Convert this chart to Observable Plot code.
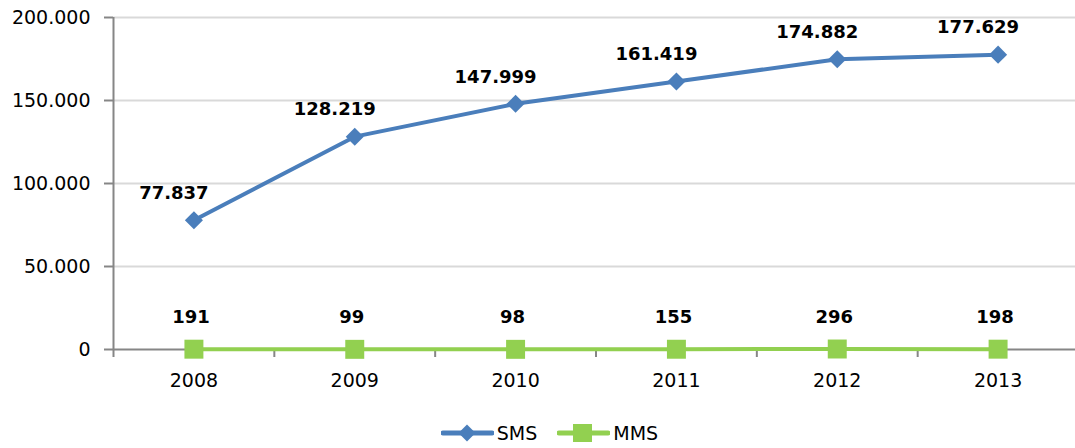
<!DOCTYPE html>
<html>
<head>
<meta charset="utf-8">
<script src="https://cdn.jsdelivr.net/npm/d3@7"></script>
<script src="https://cdn.jsdelivr.net/npm/@observablehq/plot@0.6"></script>
<style>
  body { margin: 0; background: #fff; font-family: "DejaVu Sans", sans-serif; overflow: hidden; }
  #legend { height: 38px; display: flex; justify-content: center; align-items: center; padding-left: 24px; box-sizing: border-box; padding-top: 8px; font-size: 19px; color: #000; }
  .item { display: flex; align-items: center; margin: 0 10px; }
  .item svg { margin-right: 3px; }
</style>
</head>
<body>
<div id="chart"></div>
<div id="legend"></div>
<script>
const years = [2008, 2009, 2010, 2011, 2012, 2013];
const sms = [77837, 128219, 147999, 161419, 174882, 177629];
const mms = [191, 99, 98, 155, 296, 198];
const yTicks = [0, 50000, 100000, 150000, 200000];
const seriesNames = ["SMS", "MMS"];
const seriesColors = ["#4a7ebb", "#92d050"];

const fmt = d3.formatLocale({decimal: ",", thousands: ".", grouping: [3], currency: ["", " €"]}).format(",");

const smsData = years.map((y, i) => ({year: y, value: sms[i]}));
const mmsData = years.map((y, i) => ({year: y, value: mms[i]}));
const bounds = years.map(y => y - 0.5).concat([years[years.length - 1] + 0.5]);
const axisGray = "#868686";

const chart = Plot.plot({
  width: 1075,
  height: 410,
  marginLeft: 113,
  marginRight: 0,
  marginTop: 17,
  marginBottom: 61,
  style: {fontFamily: "DejaVu Sans, sans-serif", fontSize: "19px", color: "#000", background: "#fff", overflow: "hidden"},
  x: {type: "linear", domain: [bounds[0], bounds[bounds.length - 1]], range: [113, 1078]},
  y: {domain: [0, 200000]},
  marks: [
    Plot.gridY({ticks: yTicks.slice(1), stroke: "#d9d9d9", strokeOpacity: 1, strokeWidth: 2}),
    Plot.ruleX([bounds[0]], {y1: 0, y2: 200000, stroke: axisGray, strokeWidth: 2}),
    Plot.ruleY([0], {stroke: axisGray, strokeWidth: 2}),
    Plot.axisY({ticks: yTicks, tickFormat: fmt, tickSize: 9, tickPadding: 14, stroke: axisGray, strokeWidth: 2, fill: "#000", label: null, fontSize: 19}),
    Plot.axisX({ticks: bounds.slice(0, -1), tickFormat: () => "", tickSize: 8, stroke: axisGray, strokeWidth: 2, label: null}),
    Plot.axisX({ticks: years, tickFormat: d => String(d), tickSize: 0, tickPadding: 24, fill: "#000", label: null, fontSize: 19}),
    Plot.line(smsData, {x: "year", y: "value", stroke: seriesColors[0], strokeWidth: 4}),
    Plot.dot(smsData, {x: "year", y: "value", symbol: "square", r: 7.2, rotate: 45, fill: seriesColors[0]}),
    Plot.line(mmsData, {x: "year", y: "value", stroke: seriesColors[1], strokeWidth: 4}),
    Plot.dot(mmsData, {x: "year", y: "value", symbol: "square", r: 10.7, fill: seriesColors[1]}),
    Plot.text(smsData, {x: "year", y: "value", text: d => fmt(d.value), dy: -27, dx: -20, fontSize: 18, fontWeight: "bold", fill: "#000"}),
    Plot.text(mmsData, {x: "year", y: "value", text: d => fmt(d.value), dy: -32, dx: -3, fontSize: 18, fontWeight: "bold", fill: "#000"})
  ]
});
document.getElementById("chart").appendChild(chart);

const legend = document.getElementById("legend");
seriesNames.forEach((name, i) => {
  const item = document.createElement("div");
  item.className = "item";
  const marker = i === 0
    ? `<rect x="20" y="5" width="12" height="12" transform="rotate(45 26 11)" fill="${seriesColors[i]}"/>`
    : `<rect x="16" y="2" width="19" height="18" fill="${seriesColors[i]}"/>`;
  item.innerHTML = `<svg width="53" height="22"><line x1="2" y1="11" x2="51" y2="11" stroke="${seriesColors[i]}" stroke-width="5" stroke-linecap="round"/>${marker}</svg><span>${name}</span>`;
  legend.appendChild(item);
});
</script>
</body>
</html>
